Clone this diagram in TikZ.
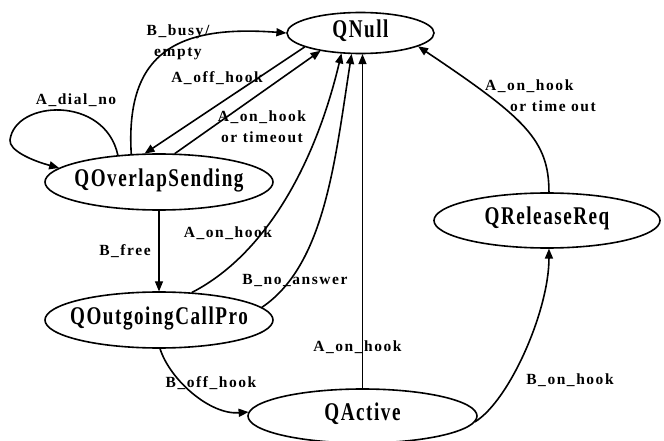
\documentclass[tikz,border=0pt]{standalone}
\usepackage{fontspec}
\setmainfont{Liberation Serif}
\newfontfamily\lblfont[LetterSpace=10]{Liberation Serif}
\newfontfamily\stfont[LetterSpace=8]{Liberation Serif}
\usetikzlibrary{shapes.geometric,arrows.meta}
\newcommand\statetext[1]{\makebox[0pt]{\raisebox{-8.3pt}{\smash{\scalebox{0.75}[1]{#1}}}}}
\begin{document}
\begin{tikzpicture}[x=1pt,y=-1pt,
  state/.style={draw,ellipse,line width=1.6pt,inner sep=0pt,outer sep=0.6pt,
    font=\stfont\fontsize{25.5}{28}\selectfont\bfseries},
  lbl/.style={font=\lblfont\fontsize{15.5}{21}\selectfont\bfseries,inner sep=0pt,align=center},
  tr/.style={line width=1.6pt,-{Triangle[length=10pt,width=8pt]}},
  thintr/.style={line width=1.1pt,-{Triangle[length=10pt,width=8pt]}}]
\useasboundingbox (0,0) rectangle (664,441);

% states
\node[state,minimum width=147pt,minimum height=41pt] (QNull) at (360.5,33) {\statetext{QNull}};
\node[state,minimum width=228pt,minimum height=56pt] (QOverlapSending) at (159,182) {\statetext{QOverlapSending}};
\node[state,minimum width=228pt,minimum height=56pt] (QOutgoingCallPro) at (159,320) {\statetext{QOutgoingCallPro}};
\node[state,minimum width=229pt,minimum height=54pt] (QActive) at (362.5,416) {\statetext{QActive}};
\node[state,minimum width=226pt,minimum height=55pt] (QReleaseReq) at (547,220.5) {\statetext{QReleaseReq}};

% transitions
\draw[tr] (QOverlapSending.147) .. controls (105,95) and (15,100) .. (10,140)
          .. controls (9,150) and (30,160) .. (QOverlapSending.172);
\draw[tr] (QOverlapSending.135) .. controls (125,50) and (180,25) .. (QNull.180);
\draw[tr] (QNull.194) -- (QOverlapSending.117);
\draw[tr] (QOverlapSending.61) -- (QNull.204);
\draw[thintr] (QOverlapSending.south) -- (QOutgoingCallPro.north);
\draw[tr] (QOutgoingCallPro.40) .. controls (265,255) and (315,165) .. (QNull.227);
\draw[tr] (QOutgoingCallPro.7) .. controls (325,265) and (335,160) .. (QNull.247);
\draw[thintr] (QActive.north) -- (QActive.north |- QNull.south);
\draw[tr] (QOutgoingCallPro.272) .. controls (170,380) and (210,415) .. (QActive.178);
\draw[tr] (QActive.-3) .. controls (510,400) and (549,310) .. (QReleaseReq.274);
\draw[tr] (QReleaseReq.86) .. controls (549,140) and (525,118) .. (QNull.347);

% labels
\node[lbl,anchor=base] (l1) at (76,105) {A\_dial\_no};
\node[lbl] (l2) at (178,42.5) {B\_busy/\\empty};
\node[lbl,anchor=base] (l3) at (217,83) {A\_off\_hook};
\node[lbl] (l4) at (262,127) {A\_on\_hook\\or timeout};
\node[lbl,anchor=base] (l5) at (125,255) {B\_free};
\node[lbl,anchor=base] (l6) at (228,237) {A\_on\_hook};
\node[lbl,anchor=base] (l7) at (295,284) {B\_no\_answer};
\node[lbl,anchor=base] (l8) at (357.5,351) {A\_on\_hook};
\node[lbl,anchor=base] (l9) at (211,387) {B\_off\_hook};
\node[lbl,anchor=base] (l10) at (570,384) {B\_on\_hook};
\node[lbl,align=left,anchor=north west] (l11) at (485,79.5) {A\_on\_hook\\\hspace*{25pt}or time out};
\end{tikzpicture}
\end{document}
